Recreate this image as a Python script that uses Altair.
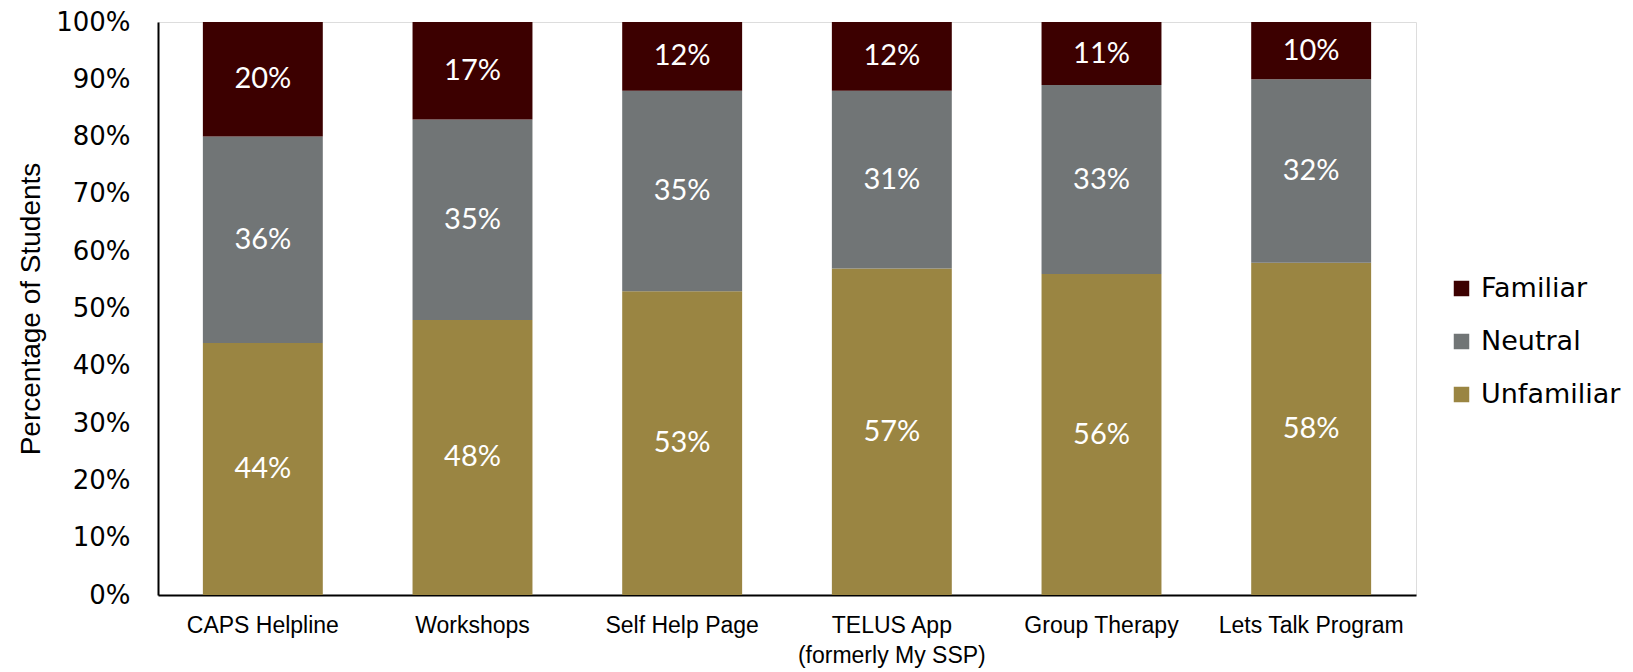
import altair as alt
import pandas as pd

categories = ["CAPS Helpline", "Workshops", "Self Help Page",
              "TELUS App\n(formerly My SSP)", "Group Therapy", "Lets Talk Program"]
unfamiliar = [44, 48, 53, 57, 56, 58]
neutral = [36, 35, 35, 31, 33, 32]
familiar = [20, 17, 12, 12, 11, 10]

series_names = ["Unfamiliar", "Neutral", "Familiar"]
series_vals = [unfamiliar, neutral, familiar]
legend_order = ["Familiar", "Neutral", "Unfamiliar"]
colors = ["#3C0000", "#717576", "#9A8542"]

rows = []
for i, cat in enumerate(categories):
    base = 0
    for rank, (name, vals) in enumerate(zip(series_names, series_vals)):
        v = vals[i]
        rows.append({"category": cat, "series": name, "value": v, "rank": rank,
                     "y0": base, "y1": base + v, "mid": base + v / 2,
                     "label": f"{v}%"})
        base += v
df = pd.DataFrame(rows)

x_enc = alt.X("category:N", sort=categories,
              scale=alt.Scale(paddingInner=0.428, paddingOuter=0.214),
              axis=alt.Axis(title=None, labelAngle=0, labelExpr="split(datum.label, '\\n')",
                            labelFont="Liberation Sans", labelFontSize=23, labelLimit=400,
                            labelColor="#000000", labelPadding=19, labelLineHeight=30,
                            ticks=False, domainColor="#000000", domainWidth=2,
                            labelBaseline="top"))

bars = alt.Chart(df).mark_bar().encode(
    x=x_enc,
    y=alt.Y("y0:Q", scale=alt.Scale(domain=[0, 100]),
            axis=alt.Axis(title="Percentage of Students", values=list(range(0, 101, 10)),
                          labelExpr="datum.value + '%'", grid=False, ticks=False,
                          labelFont="DejaVu Sans", labelFontSize=26, labelColor="#000000",
                          labelPadding=28, domainColor="#000000", domainWidth=2,
                          titleFont="Liberation Sans", titleFontSize=28,
                          titleFontWeight="normal", titleColor="#000000", titlePadding=10)),
    y2="y1:Q",
    color=alt.Color("series:N",
                    scale=alt.Scale(domain=legend_order, range=colors),
                    legend=alt.Legend(title=None, orient="none", legendX=1290, legendY=253,
                                      symbolType="square", symbolSize=240,
                                      symbolStrokeWidth=0, labelFont="DejaVu Sans",
                                      labelFontSize=27, labelColor="#000000",
                                      rowPadding=25, labelOffset=6)),
)

labels = alt.Chart(df).mark_text(color="white", font="Lato", fontSize=29,
                                 baseline="middle", align="center").encode(
    x=alt.X("category:N", sort=categories),
    y=alt.Y("mid:Q"),
    text="label:N",
)

chart = alt.layer(bars, labels).properties(
    width=1258, height=573,
    autosize=alt.AutoSizeParams(type="none"),
    padding={"left": 150, "top": 14, "right": 209, "bottom": 77},
).configure_view(stroke=None).configure(background="white")

chart.save("out.html", embed_options={"renderer": "svg", "actions": False})
